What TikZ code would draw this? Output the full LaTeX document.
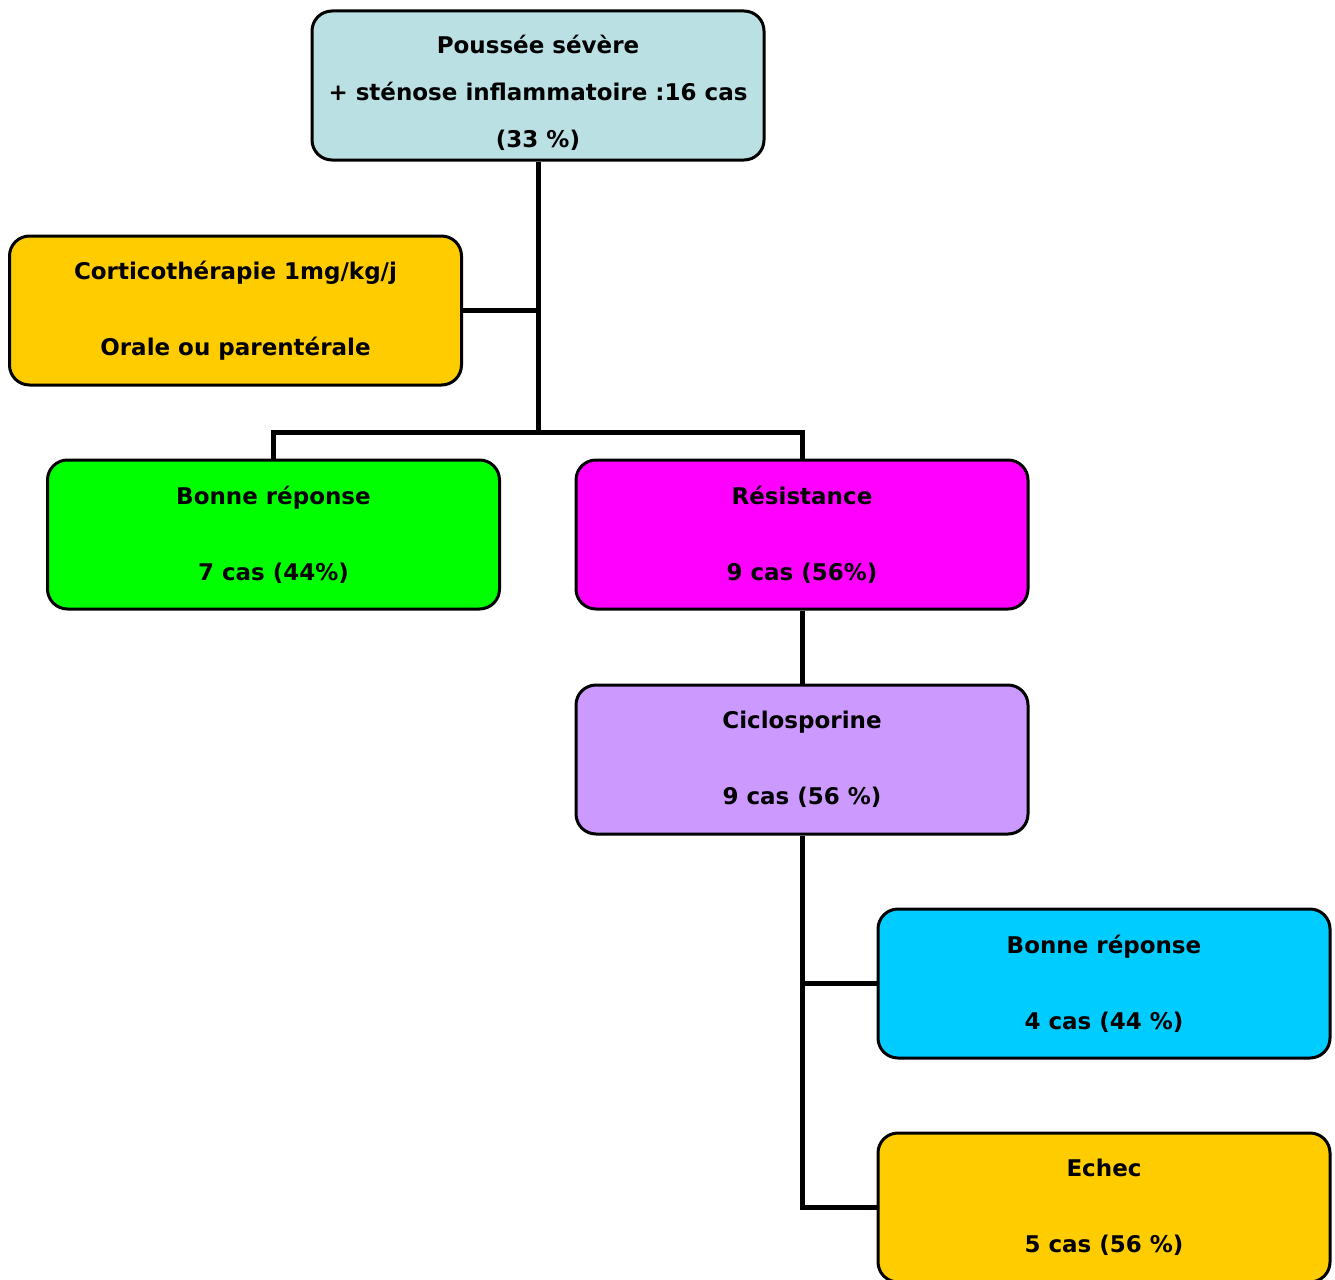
\documentclass[tikz,border=0pt]{standalone}
\usepackage{fontspec}
\setmainfont{DejaVu Sans}
\definecolor{bleugris}{HTML}{BBE0E3}
\definecolor{jaune}{HTML}{FFCC00}
\definecolor{vert}{HTML}{00FF00}
\definecolor{rose}{HTML}{FF00FF}
\definecolor{mauve}{HTML}{CC99FF}
\definecolor{ciel}{HTML}{00CCFF}
\begin{document}
\begin{tikzpicture}[x=1pt,y=-1pt,
  boite/.style={draw=black,line width=3pt,rounded corners=20pt,minimum width=452pt,minimum height=149pt,inner sep=0pt,align=center,font=\fontsize{23}{38}\selectfont\bfseries},
  lien/.style={line width=5pt}]
\clip (0,0) rectangle (1335,1279);
\node[boite,fill=bleugris] (pousse) at (538,85.5) {\rule{0pt}{34pt}Poussée sévère\\[9pt]+ sténose inflammatoire :16 cas\\[9pt](33 \%)};
\node[boite,fill=jaune] (cortico) at (235.5,310.5) {Corticothérapie 1mg/kg/j\\[38pt]Orale ou parentérale};
\node[boite,fill=vert] (bonne1) at (273.5,534.5) {Bonne réponse\\[38pt]7 cas (44\%)};
\node[boite,fill=rose] (resist) at (802,534.5) {Résistance\\[38pt]9 cas (56\%)};
\node[boite,fill=mauve] (ciclo) at (802,759.5) {Ciclosporine\\[38pt]9 cas (56 \%)};
\node[boite,fill=ciel] (bonne2) at (1104,983.5) {Bonne réponse\\[38pt]4 cas (44 \%)};
\node[boite,fill=jaune] (echec) at (1104,1207.5) {Echec\\[38pt]5 cas (56 \%)};
\coordinate (split) at (538,432);
% liens
\draw[lien] (pousse.south) -- (split);
\draw[lien] (cortico.east) -- (cortico.east -| split);
\draw[lien] (bonne1.north) |- (split) -| (resist.north);
\draw[lien] (resist.south) -- (ciclo.north);
\draw[lien] (ciclo.south) |- (echec.west);
\draw[lien] (bonne2.west) -- (bonne2.west -| ciclo.south);
\end{tikzpicture}
\end{document}
